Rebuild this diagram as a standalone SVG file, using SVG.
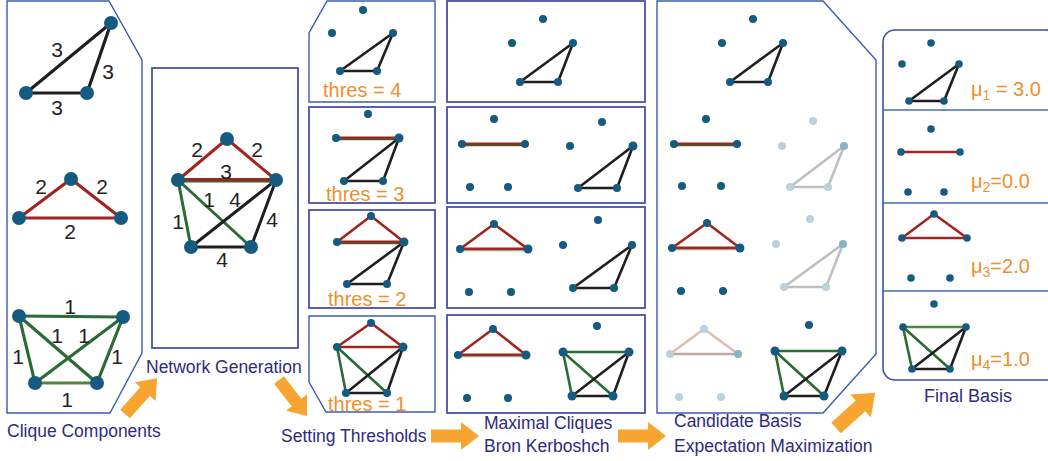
<svg xmlns="http://www.w3.org/2000/svg" width="1048" height="461" viewBox="0 0 1048 461">
<style>
.n{fill:#155a80}
.f{fill:#b9d0dd}
.fd{fill:#8eb0c5}
.e{fill:none;stroke-linecap:round}
.k{stroke:#1f1f1f}
.r{stroke:#a3231e}
.g{stroke:#2b6b34}
.gl{stroke:#4f8540}
.gy{stroke:#bfbfbf}
.pk{stroke:#e2bcb4}
.w1{stroke-width:3.2}
.w2{stroke-width:2.6}
.wt{font-family:"Liberation Sans",Arial,sans-serif;font-size:21px;fill:#232323;text-anchor:middle}
.lab{font-family:"Liberation Sans",Arial,sans-serif;font-size:17.5px;fill:#2f2b7e}
.or{font-family:"Liberation Sans",Arial,sans-serif;font-size:20px;fill:#ee8f2b}
.box{fill:none;stroke:#4a4fa8;stroke-width:1.8}
.pb{fill:none;stroke:#3a5db0;stroke-width:1.4}
.arr{fill:#f8a431}
</style>
<defs>
<path id="arrow" d="M0,-6.5 H30 V-14 L48,0 L30,14 V6.5 H0 Z"/>
</defs>

<!-- Clique Components panel -->
<g id="clique-components">
<polygon class="pb" points="7,1 109,1 142,60 142,353 110,413 7,413"/>
<g class="e k w1"><line x1="111" y1="23" x2="26" y2="93"/><line x1="111" y1="23" x2="87" y2="93"/><line x1="26" y1="93" x2="87" y2="93"/></g>
<g class="e r w1"><line x1="71" y1="179" x2="19" y2="218"/><line x1="71" y1="179" x2="121" y2="218"/><line x1="19" y1="218" x2="121" y2="218"/></g>
<g class="e g w1"><line x1="19" y1="316" x2="123" y2="317"/><line x1="19" y1="316" x2="35" y2="383"/><line x1="19" y1="316" x2="97" y2="383"/><line x1="123" y1="317" x2="35" y2="383"/><line x1="123" y1="317" x2="97" y2="383"/></g>
<line class="e gl w1" x1="35" y1="383" x2="97" y2="383"/>
<g><circle class="n" cx="111" cy="23" r="7"/><circle class="n" cx="26" cy="93" r="7"/><circle class="n" cx="87" cy="93" r="7"/>
<circle class="n" cx="71" cy="179" r="7"/><circle class="n" cx="19" cy="218" r="7"/><circle class="n" cx="121" cy="218" r="7"/>
<circle class="n" cx="19" cy="316" r="7"/><circle class="n" cx="123" cy="317" r="7"/><circle class="n" cx="35" cy="383" r="7"/><circle class="n" cx="97" cy="383" r="7"/></g>
<g class="wt"><text x="57" y="57">3</text><text x="108" y="79">3</text><text x="57" y="115">3</text>
<text x="41" y="194">2</text><text x="102" y="194">2</text><text x="70" y="239">2</text>
<text x="70" y="314">1</text><text x="57" y="343">1</text><text x="84" y="343">1</text><text x="18" y="364">1</text><text x="117" y="364">1</text><text x="67" y="407">1</text></g>
</g>

<!-- Network Generation panel -->
<g id="network-generation">
<rect class="box" x="152" y="68" width="146" height="280"/>
<line class="e g" stroke-width="1.8" x1="178" y1="181.6" x2="276" y2="181.6"/>
<g class="e r" stroke-width="3"><line x1="227" y1="139" x2="178" y2="180"/><line x1="227" y1="139" x2="276" y2="180"/><line x1="178" y1="179.6" x2="276" y2="179.6"/></g>
<g class="e g" stroke-width="3"><line x1="178" y1="180" x2="191" y2="247"/><line x1="178" y1="180" x2="251" y2="247"/></g>
<g class="e k" stroke-width="3"><line x1="276" y1="180" x2="191" y2="247"/><line x1="276" y1="180" x2="251" y2="247"/><line x1="191" y1="247" x2="251" y2="247"/></g>
<g><circle class="n" cx="227" cy="139" r="7"/><circle class="n" cx="178" cy="180" r="7"/><circle class="n" cx="276" cy="180" r="7"/><circle class="n" cx="191" cy="247" r="7"/><circle class="n" cx="251" cy="247" r="7"/></g>
<g class="wt"><text x="197" y="157">2</text><text x="257" y="157">2</text><text x="226" y="179">3</text><text x="209" y="207">1</text><text x="235" y="207">4</text><text x="178" y="229">1</text><text x="272" y="227">4</text><text x="222" y="267">4</text></g>
</g>

<!-- Setting thresholds column -->
<g id="thres-4">
<polygon class="pb" points="327,1 435,1 435,102 309,102 309,33"/>
<g class="e k w2"><line x1="393" y1="33" x2="340" y2="71"/><line x1="393" y1="33" x2="377" y2="71"/><line x1="340" y1="71" x2="377" y2="71"/></g>
<g><circle class="n" cx="363" cy="10" r="4"/><circle class="n" cx="332" cy="33" r="4"/><circle class="n" cx="393" cy="33" r="4"/><circle class="n" cx="340" cy="71" r="4"/><circle class="n" cx="377" cy="71" r="4"/></g>
<text class="or" x="323" y="97" font-size="22">thres = 4</text>
</g>
<g id="thres-3">
<rect class="box" x="309" y="107" width="126" height="96"/>
<line class="e g" stroke-width="1.4" x1="336" y1="139.6" x2="399" y2="139.6"/>
<line class="e r w2" x1="336" y1="137.8" x2="399" y2="137.8"/>
<g class="e k w2"><line x1="399" y1="138" x2="344" y2="181"/><line x1="399" y1="138" x2="383" y2="181"/><line x1="344" y1="181" x2="383" y2="181"/></g>
<g><circle class="n" cx="368" cy="114" r="4"/><circle class="n" cx="336" cy="138" r="4"/><circle class="n" cx="399" cy="138" r="4.5"/><circle class="n" cx="344" cy="181" r="4"/><circle class="n" cx="383" cy="181" r="4"/></g>
<text class="or" x="326" y="201" font-size="22">thres = 3</text>
</g>
<g id="thres-2">
<rect class="box" x="309" y="210" width="126" height="98"/>
<line class="e g" stroke-width="1.4" x1="337" y1="243.6" x2="404" y2="243.6"/>
<g class="e r w2"><line x1="371" y1="216" x2="337" y2="242"/><line x1="371" y1="216" x2="404" y2="242"/><line x1="337" y1="241.8" x2="404" y2="241.8"/></g>
<g class="e k w2"><line x1="404" y1="242" x2="347" y2="284"/><line x1="404" y1="242" x2="387" y2="284"/><line x1="347" y1="284" x2="387" y2="284"/></g>
<g><circle class="n" cx="371" cy="216" r="4"/><circle class="n" cx="337" cy="242" r="4"/><circle class="n" cx="404" cy="242" r="4.5"/><circle class="n" cx="347" cy="284" r="4"/><circle class="n" cx="387" cy="284" r="4"/></g>
<text class="or" x="328" y="306" font-size="22">thres = 2</text>
</g>
<g id="thres-1">
<polygon class="pb" points="309,316 435,316 435,412 326,412 309,382"/>
<g class="e r w2"><line x1="371" y1="323" x2="337" y2="347"/><line x1="371" y1="323" x2="403" y2="347"/><line x1="337" y1="347" x2="403" y2="347"/></g>
<g class="e g w2"><line x1="337" y1="347" x2="346" y2="393"/><line x1="337" y1="347" x2="387" y2="393"/></g>
<g class="e k w2"><line x1="403" y1="347" x2="346" y2="393"/><line x1="403" y1="347" x2="387" y2="393"/><line x1="346" y1="393" x2="387" y2="393"/></g>
<g><circle class="n" cx="371" cy="323" r="4"/><circle class="n" cx="337" cy="347" r="4"/><circle class="n" cx="403" cy="347" r="4.5"/><circle class="n" cx="346" cy="393" r="4"/><circle class="n" cx="387" cy="393" r="4"/></g>
<text class="or" x="328" y="411" font-size="22">thres = 1</text>
</g>

<!-- Maximal cliques column -->
<g id="maximal-1">
<rect class="box" x="447" y="1" width="198" height="101"/>
<g class="e k w2"><line x1="573" y1="43" x2="520" y2="82"/><line x1="573" y1="43" x2="558" y2="82"/><line x1="520" y1="82" x2="558" y2="82"/></g>
<g><circle class="n" cx="543" cy="19" r="4"/><circle class="n" cx="512" cy="43" r="4"/><circle class="n" cx="573" cy="43" r="4"/><circle class="n" cx="520" cy="82" r="4"/><circle class="n" cx="558" cy="82" r="4"/></g>
</g>
<g id="maximal-2">
<rect class="box" x="447" y="107" width="198" height="96"/>
<line class="e g" stroke-width="1.4" x1="462" y1="145.6" x2="525" y2="145.6"/>
<line class="e r w2" x1="462" y1="143.8" x2="525" y2="143.8"/>
<g class="e k w2"><line x1="633" y1="146" x2="578" y2="188"/><line x1="633" y1="146" x2="617" y2="188"/><line x1="578" y1="188" x2="617" y2="188"/></g>
<g><circle class="n" cx="494" cy="119" r="4"/><circle class="n" cx="462" cy="144" r="4"/><circle class="n" cx="525" cy="144" r="4"/><circle class="n" cx="470" cy="187" r="4"/><circle class="n" cx="508" cy="187" r="4"/>
<circle class="n" cx="602" cy="122" r="4"/><circle class="n" cx="570" cy="146" r="4"/><circle class="n" cx="633" cy="146" r="4.5"/><circle class="n" cx="578" cy="188" r="4"/><circle class="n" cx="617" cy="188" r="4"/></g>
</g>
<g id="maximal-3">
<rect class="box" x="447" y="207" width="198" height="101"/>
<line class="e" stroke="#9aa890" stroke-width="1.4" x1="460" y1="250.6" x2="528" y2="250.6"/>
<g class="e r w2"><line x1="494" y1="224" x2="460" y2="249"/><line x1="494" y1="224" x2="528" y2="249"/><line x1="460" y1="248.8" x2="528" y2="248.8"/></g>
<g class="e k w2"><line x1="632" y1="245" x2="573" y2="288"/><line x1="632" y1="245" x2="614" y2="288"/><line x1="573" y1="288" x2="614" y2="288"/></g>
<g><circle class="n" cx="494" cy="224" r="4"/><circle class="n" cx="460" cy="249" r="4"/><circle class="n" cx="528" cy="249" r="4.5"/><circle class="n" cx="469" cy="292" r="4"/><circle class="n" cx="511" cy="292" r="4"/>
<circle class="n" cx="598" cy="220" r="4"/><circle class="n" cx="563" cy="245" r="4"/><circle class="n" cx="632" cy="245" r="4"/><circle class="n" cx="573" cy="288" r="4"/><circle class="n" cx="614" cy="288" r="4"/></g>
</g>
<g id="maximal-4">
<rect class="box" x="447" y="315" width="198" height="98"/>
<line class="e" stroke="#9aa890" stroke-width="1.4" x1="458" y1="356.6" x2="526" y2="356.6"/>
<g class="e r w2"><line x1="493" y1="329" x2="458" y2="355"/><line x1="493" y1="329" x2="526" y2="355"/><line x1="458" y1="354.8" x2="526" y2="354.8"/></g>
<g class="e g w2"><line x1="563" y1="352" x2="629" y2="352"/><line x1="563" y1="352" x2="572" y2="396"/><line x1="563" y1="352" x2="613" y2="396"/></g>
<g class="e k w2"><line x1="629" y1="352" x2="572" y2="396"/><line x1="629" y1="352" x2="613" y2="396"/><line x1="572" y1="396" x2="613" y2="396"/></g>
<g><circle class="n" cx="493" cy="329" r="4"/><circle class="n" cx="458" cy="355" r="4"/><circle class="n" cx="526" cy="355" r="4.5"/><circle class="n" cx="467" cy="398" r="4"/><circle class="n" cx="508" cy="398" r="4"/>
<circle class="n" cx="597" cy="326" r="4"/><circle class="n" cx="563" cy="352" r="4.5"/><circle class="n" cx="629" cy="352" r="4.5"/><circle class="n" cx="572" cy="396" r="4.5"/><circle class="n" cx="613" cy="396" r="4.5"/></g>
</g>

<!-- Candidate basis panel -->
<g id="candidate-basis">
<polygon class="pb" points="657,1 823,1 876,60 876,354 823,413 657,413"/>
<g class="e k w2"><line x1="783" y1="43" x2="730" y2="82"/><line x1="783" y1="43" x2="768" y2="82"/><line x1="730" y1="82" x2="768" y2="82"/></g>
<g><circle class="n" cx="753" cy="19" r="4"/><circle class="n" cx="722" cy="43" r="4"/><circle class="n" cx="783" cy="43" r="4"/><circle class="n" cx="730" cy="82" r="4"/><circle class="n" cx="768" cy="82" r="4"/></g>
<line class="e g" stroke-width="1.4" x1="674" y1="145.6" x2="737" y2="145.6"/>
<line class="e r w2" x1="674" y1="143.8" x2="737" y2="143.8"/>
<g><circle class="n" cx="706" cy="119" r="4"/><circle class="n" cx="674" cy="144" r="4"/><circle class="n" cx="737" cy="144" r="4"/><circle class="n" cx="682" cy="186" r="4"/><circle class="n" cx="721" cy="186" r="4"/></g>
<g class="e gy w2"><line x1="844" y1="146" x2="790" y2="187"/><line x1="844" y1="146" x2="828" y2="187"/><line x1="790" y1="187" x2="828" y2="187"/></g>
<g><circle class="f" cx="813" cy="121" r="4"/><circle class="f" cx="782" cy="146" r="4"/><circle class="fd" cx="844" cy="146" r="4"/><circle class="f" cx="790" cy="187" r="4"/><circle class="f" cx="828" cy="187" r="4"/></g>
<line class="e" stroke="#9aa890" stroke-width="1.4" x1="672" y1="249.6" x2="740" y2="249.6"/>
<g class="e r w2"><line x1="707" y1="223" x2="672" y2="248"/><line x1="707" y1="223" x2="740" y2="248"/><line x1="672" y1="247.8" x2="740" y2="247.8"/></g>
<g><circle class="n" cx="707" cy="223" r="4"/><circle class="n" cx="672" cy="248" r="4"/><circle class="n" cx="740" cy="248" r="4.5"/><circle class="n" cx="681" cy="291" r="4"/><circle class="n" cx="723" cy="291" r="4"/></g>
<g class="e gy w2"><line x1="843" y1="244" x2="784" y2="287"/><line x1="843" y1="244" x2="826" y2="287"/><line x1="784" y1="287" x2="826" y2="287"/></g>
<g><circle class="f" cx="810" cy="219" r="4"/><circle class="f" cx="776" cy="244" r="4"/><circle class="fd" cx="843" cy="244" r="4"/><circle class="f" cx="784" cy="287" r="4"/><circle class="f" cx="826" cy="287" r="4"/></g>
<g class="e pk w2"><line x1="704" y1="329" x2="670" y2="354"/><line x1="704" y1="329" x2="738" y2="354"/></g>
<line class="e w2" stroke="#baa99f" x1="670" y1="354" x2="738" y2="354"/>
<g><circle class="f" cx="704" cy="329" r="4"/><circle class="f" cx="670" cy="354" r="4"/><circle class="fd" cx="738" cy="354" r="4"/><circle class="f" cx="679" cy="397" r="4"/><circle class="f" cx="721" cy="397" r="4"/></g>
<g class="e g w2"><line x1="775" y1="351" x2="842" y2="351"/><line x1="775" y1="351" x2="784" y2="396"/><line x1="775" y1="351" x2="824" y2="396"/></g>
<g class="e k w2"><line x1="842" y1="351" x2="784" y2="396"/><line x1="842" y1="351" x2="824" y2="396"/><line x1="784" y1="396" x2="824" y2="396"/></g>
<g><circle class="n" cx="809" cy="325" r="4"/><circle class="n" cx="775" cy="351" r="4.5"/><circle class="n" cx="842" cy="351" r="4.5"/><circle class="n" cx="784" cy="396" r="4.5"/><circle class="n" cx="824" cy="396" r="4.5"/></g>
</g>

<!-- Final basis panel -->
<g id="final-basis">
<rect x="883" y="30" width="175" height="350" rx="12" fill="none" stroke="#3c4fa6" stroke-width="1.6"/>
<g stroke="#3f6fb5" stroke-width="1.4"><line x1="883" y1="110" x2="1048" y2="110"/><line x1="883" y1="203" x2="1048" y2="203"/><line x1="883" y1="291" x2="1048" y2="291"/></g>
<g class="e k w2"><line x1="959" y1="64" x2="909" y2="101"/><line x1="959" y1="64" x2="944" y2="101"/><line x1="909" y1="101" x2="944" y2="101"/></g>
<g><circle class="n" cx="931" cy="43" r="3.8"/><circle class="n" cx="902" cy="64" r="3.8"/><circle class="n" cx="959" cy="64" r="3.8"/><circle class="n" cx="909" cy="101" r="3.8"/><circle class="n" cx="944" cy="101" r="3.8"/></g>
<line class="e r w2" x1="901" y1="152" x2="960" y2="152"/>
<g><circle class="n" cx="931" cy="129" r="3.8"/><circle class="n" cx="901" cy="152" r="3.8"/><circle class="n" cx="960" cy="152" r="3.8"/><circle class="n" cx="908" cy="192" r="3.8"/><circle class="n" cx="944" cy="192" r="3.8"/></g>
<g class="e r w2"><line x1="934" y1="214" x2="902" y2="238"/><line x1="934" y1="214" x2="967" y2="238"/><line x1="902" y1="238" x2="967" y2="238"/></g>
<g><circle class="n" cx="934" cy="214" r="3.8"/><circle class="n" cx="902" cy="238" r="3.8"/><circle class="n" cx="967" cy="238" r="3.8"/><circle class="n" cx="911" cy="278" r="3.8"/><circle class="n" cx="950" cy="278" r="3.8"/></g>
<line class="e gl w2" x1="903" y1="327" x2="966" y2="327"/>
<g class="e g w2"><line x1="903" y1="327" x2="912" y2="369"/><line x1="903" y1="327" x2="950" y2="369"/></g>
<g class="e k w2"><line x1="966" y1="327" x2="912" y2="369"/><line x1="966" y1="327" x2="950" y2="369"/><line x1="912" y1="369" x2="950" y2="369"/></g>
<g><circle class="n" cx="934" cy="304" r="3.8"/><circle class="n" cx="903" cy="327" r="3.8"/><circle class="n" cx="966" cy="327" r="3.8"/><circle class="n" cx="912" cy="369" r="3.8"/><circle class="n" cx="950" cy="369" r="3.8"/></g>
<text class="or" x="971" y="96">μ<tspan font-size="14" dy="4">1</tspan><tspan dy="-4"> = 3.0</tspan></text>
<text class="or" x="971" y="188">μ<tspan font-size="14" dy="4">2</tspan><tspan dy="-4">=0.0</tspan></text>
<text class="or" x="971" y="273">μ<tspan font-size="14" dy="4">3</tspan><tspan dy="-4">=2.0</tspan></text>
<text class="or" x="971" y="366">μ<tspan font-size="14" dy="4">4</tspan><tspan dy="-4">=1.0</tspan></text>
</g>

<!-- Stage labels -->
<g id="labels" class="lab">
<text x="7" y="437">Clique Components</text>
<text x="146" y="373">Network Generation</text>
<text x="281" y="442">Setting Thresholds</text>
<text x="484" y="429">Maximal Cliques</text>
<text x="484" y="452">Bron Kerboshch</text>
<text x="674" y="427">Candidate Basis</text>
<text x="674" y="452">Expectation Maximization</text>
<text x="924" y="402" font-size="18">Final Basis</text>
</g>

<!-- Connectors (process arrows) -->
<g id="connectors" class="arr">
<use href="#arrow" transform="translate(125,414) rotate(-48)"/>
<use href="#arrow" transform="translate(279,380) rotate(52) scale(0.95)"/>
<use href="#arrow" transform="translate(431,436)"/>
<use href="#arrow" transform="translate(618,436)"/>
<use href="#arrow" transform="translate(836,428) rotate(-42) scale(1.1)"/>
</g>
</svg>
